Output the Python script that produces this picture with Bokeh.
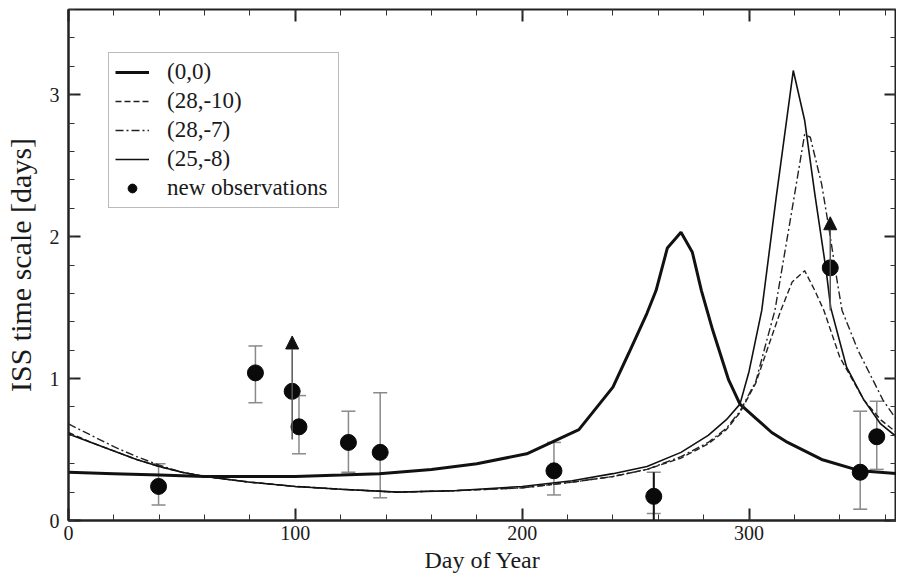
from bokeh.plotting import figure
from bokeh.models import (ColumnDataSource, Whisker, TeeHead, Arrow, NormalHead,
                          LinearAxis, SingleIntervalTicker, Range1d, Legend, LegendItem,
                          CustomJSTickFormatter)
from bokeh.embed import file_html
from bokeh.resources import INLINE

# ---- data ----
days_a = [0, 20, 40, 60, 80, 100, 120, 137, 160, 180, 202, 225, 240, 247, 255, 259, 264, 270, 275, 279, 284, 291, 296, 303, 310, 317, 332, 349, 365]
vals_a = [0.34, 0.33, 0.32, 0.31, 0.31, 0.31, 0.32, 0.33, 0.36, 0.40, 0.47, 0.64, 0.94, 1.18, 1.46, 1.62, 1.92, 2.03, 1.89, 1.62, 1.34, 0.99, 0.82, 0.72, 0.62, 0.55, 0.43, 0.35, 0.33]

days_b = [0, 10, 20, 30, 40, 50, 60, 80, 100, 120, 145, 170, 200, 222, 240, 255, 270, 282, 290, 296, 303, 309, 314, 319, 324.5, 329, 333, 340, 350.6, 358, 365]
vals_b = [0.62, 0.55, 0.49, 0.43, 0.38, 0.34, 0.31, 0.27, 0.24, 0.22, 0.20, 0.21, 0.23, 0.27, 0.31, 0.36, 0.44, 0.54, 0.64, 0.76, 0.97, 1.25, 1.48, 1.68, 1.76, 1.62, 1.48, 1.15, 0.85, 0.71, 0.62]

days_c = [0, 10, 20, 30, 40, 50, 60, 80, 100, 120, 145, 170, 200, 222, 240, 255, 270, 282, 290, 296, 303, 308, 311.4, 318, 324.5, 327, 332, 335.4, 339, 341, 348, 359, 365]
vals_c = [0.68, 0.60, 0.52, 0.45, 0.39, 0.34, 0.31, 0.27, 0.24, 0.22, 0.20, 0.21, 0.23, 0.27, 0.31, 0.36, 0.45, 0.55, 0.65, 0.77, 0.98, 1.28, 1.48, 2.10, 2.72, 2.70, 2.37, 2.04, 1.67, 1.48, 1.20, 0.85, 0.71]

days_d = [0, 10, 20, 30, 40, 50, 60, 80, 100, 120, 145, 170, 200, 222, 240, 255, 270, 282, 290, 296, 300, 305.6, 312, 319.5, 324.5, 329, 334, 336, 343, 350.6, 358, 365]
vals_d = [0.61, 0.55, 0.49, 0.43, 0.38, 0.34, 0.31, 0.27, 0.24, 0.22, 0.20, 0.21, 0.24, 0.28, 0.33, 0.38, 0.48, 0.60, 0.71, 0.82, 1.05, 1.48, 2.28, 3.17, 2.82, 2.30, 1.76, 1.50, 1.08, 0.85, 0.68, 0.59]

obs_day = [39.7, 82.4, 98.6, 101.6, 123.4, 137.4, 214, 258, 335.8, 349, 356.3]
obs_val = [0.24, 1.04, 0.91, 0.66, 0.55, 0.48, 0.35, 0.17, 1.78, 0.34, 0.59]

err_day = [39.7, 82.4, 101.6, 123.4, 137.4, 214, 258, 349, 356.3]
err_low = [0.11, 0.83, 0.47, 0.34, 0.16, 0.18, 0.05, 0.08, 0.36]
err_high = [0.40, 1.23, 0.88, 0.77, 0.90, 0.55, 0.34, 0.77, 0.84]

lim_day = [98.6, 335.8]
lim_low = [0.57, 1.48]
lim_high = [1.30, 2.14]

upper_day = [258]
upper_low = [0.0]
upper_high = [0.34]

x_start, x_end = 0, 365
y_start, y_end = 0, 3.6
x_ticks_interval = 100
y_ticks_interval = 1

FONT = "Liberation Serif"
TXT = "#1a1a1a"

p = figure(width=896, height=575, x_range=Range1d(x_start, x_end), y_range=Range1d(y_start, y_end),
           output_backend="svg", toolbar_location=None,
           min_border_left=58, min_border_right=0, min_border_top=9, min_border_bottom=54,
           x_axis_label="Day of Year", y_axis_label="ISS time scale [days]")
p.xgrid.visible = False
p.ygrid.visible = False
p.outline_line_color = "#222222"
p.outline_line_width = 2
p.background_fill_color = "white"
p.border_fill_color = "white"

xt = SingleIntervalTicker(interval=x_ticks_interval, num_minor_ticks=5)
yt = SingleIntervalTicker(interval=y_ticks_interval, num_minor_ticks=5)


def style(ax, labels=True):
    ax.axis_line_color = "#222222"
    ax.axis_line_width = 2
    ax.major_tick_in = 12
    ax.major_tick_out = 0
    ax.minor_tick_in = 6
    ax.minor_tick_out = 0
    ax.major_tick_line_color = "#222222"
    ax.major_tick_line_width = 2
    ax.minor_tick_line_color = "#333333"
    ax.minor_tick_line_width = 1
    ax.major_label_text_font = FONT
    ax.major_label_text_font_size = "20px"
    ax.major_label_text_color = TXT
    ax.axis_label_text_font = FONT
    ax.axis_label_text_font_style = "normal"
    ax.axis_label_text_color = TXT
    if not labels:
        ax.formatter = CustomJSTickFormatter(code="return ''")
        ax.major_label_standoff = 0
        ax.axis_line_color = None


p.xaxis.ticker = xt
p.yaxis.ticker = yt
style(p.xaxis[0])
style(p.yaxis[0])
p.xaxis.major_label_standoff = 5
p.xaxis.axis_label_standoff = 4
p.xaxis.axis_label_text_font_size = "24px"
p.yaxis.major_label_standoff = 9
p.yaxis.axis_label_standoff = 10
p.yaxis.axis_label_text_font_size = "30px"

top = LinearAxis(ticker=xt)
style(top, labels=False)
p.add_layout(top, "above")
right = LinearAxis(ticker=yt)
style(right, labels=False)
p.add_layout(right, "right")

ra = p.line(days_a, vals_a, line_color="#111111", line_width=3)
rb = p.line(days_b, vals_b, line_color="#222222", line_width=1.4, line_dash="6 3")
rc = p.line(days_c, vals_c, line_color="#222222", line_width=1.4, line_dash="8 3 2 3")
rd = p.line(days_d, vals_d, line_color="#111111", line_width=1.6)

esrc = ColumnDataSource(dict(x=err_day, lo=err_low, hi=err_high))
p.add_layout(Whisker(base="x", lower="lo", upper="hi", source=esrc, line_color="#8a8a8a", line_width=1.5,
                     upper_head=TeeHead(size=14, line_color="#8a8a8a", line_width=1.5),
                     lower_head=TeeHead(size=14, line_color="#8a8a8a", line_width=1.5)))

usrc = ColumnDataSource(dict(x=upper_day, lo=upper_low, hi=upper_high))
p.segment(x0="x", y0="lo", x1="x", y1="hi", source=usrc, line_color="#111111", line_width=2)

lsrc = ColumnDataSource(dict(x=lim_day, lo=lim_low, hi=lim_high))
p.add_layout(Arrow(x_start="x", y_start="lo", x_end="x", y_end="hi", source=lsrc,
                   line_color="#555555", line_width=1.5,
                   end=NormalHead(size=13, fill_color="#111111", line_color="#111111")))

ro = p.scatter(obs_day, obs_val, size=16, fill_color="#0a0a0a", line_color="#0a0a0a")

legend = Legend(items=[LegendItem(label="(0,0)", renderers=[ra]),
                       LegendItem(label="(28,-10)", renderers=[rb]),
                       LegendItem(label="(28,-7)", renderers=[rc]),
                       LegendItem(label="(25,-8)", renderers=[rd]),
                       LegendItem(label="new observations", renderers=[ro])],
                location=(40, 312))
legend.label_text_font = FONT
legend.label_text_font_size = "23px"
legend.label_text_color = TXT
legend.glyph_width = 34
legend.glyph_height = 22
legend.label_height = 22
legend.label_width = 165
legend.label_standoff = 18
legend.spacing = 3
legend.padding = 6
legend.margin = 0
legend.border_line_color = "#777777"
legend.border_line_width = 1.5
legend.background_fill_color = "white"
legend.background_fill_alpha = 1
p.add_layout(legend, "center")

open("out.html", "w").write(file_html(p, INLINE))
